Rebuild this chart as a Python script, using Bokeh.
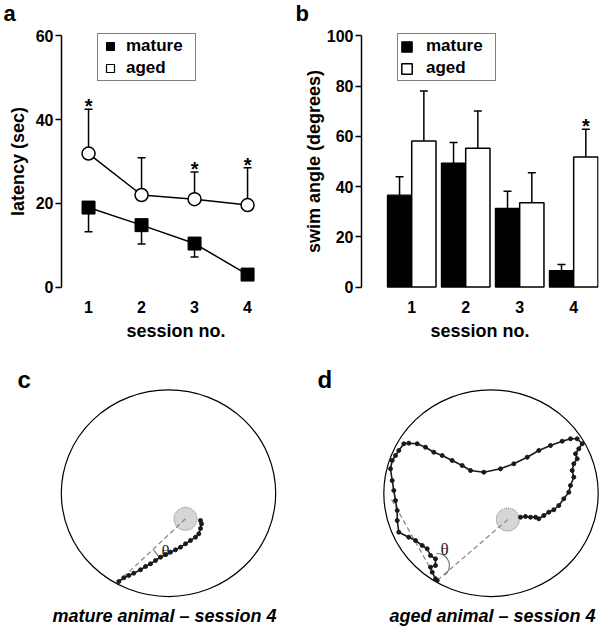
from bokeh.plotting import figure
from bokeh.layouts import column, row
from bokeh.models import Legend, LegendItem, FixedTicker, Label, Range1d
from bokeh.core.properties import value
from bokeh.embed import file_html
from bokeh.resources import INLINE
import math

FONT = "Liberation Sans"
SERIF = "Liberation Serif"

# ---------------- data ----------------
sessions = [1, 2, 3, 4]
mature_latency = [19.0, 14.8, 10.4, 3.0]
mature_latency_sem = [5.8, 4.5, 3.2, 0.6]
aged_latency = [31.9, 22.0, 21.0, 19.6]
aged_latency_sem = [10.6, 8.9, 6.5, 8.9]
latency_signif = [True, False, True, True]

mature_angle = [36.6, 49.4, 31.3, 6.6]
mature_angle_sem = [7.3, 8.2, 6.9, 2.4]
aged_angle = [58.2, 55.3, 33.6, 51.8]
aged_angle_sem = [19.9, 14.8, 11.9, 11.0]
angle_signif = [False, False, False, True]

# swim paths (pool centre = 0,0)
pool_width, pool_height = 214.4, 206.7
platform_radius = 11.5
mature_platform = (17.0, -25.6)
aged_platform = (16.8, -26.3)
mature_path_x = [-49.7, -44.7, -39.7, -34.7, -28.0, -23.0, -18.0, -13.0, -8.0, -3.0,
                 2.0, 7.0, 12.0, 17.0, 22.0, 27.0, 30.3, 32.0, 33.0, 32.0]
mature_path_y = [-88.3, -84.6, -82.3, -80.0, -76.6, -73.3, -70.6, -67.3, -64.0, -61.3,
                 -59.0, -56.6, -54.0, -50.6, -47.3, -44.0, -40.6, -35.3, -30.6, -27.3]
aged_path_x = [-53.8, -55.5, -58.8, -60.5, -55.5, -55.5, -60.5, -63.8, -68.8, -75.5,
               -82.2, -92.2, -93.8, -93.8, -95.5, -97.2, -98.8, -100.5, -98.8, -95.5,
               -92.2, -87.2, -82.2, -73.8, -65.5, -57.2, -48.8, -38.8, -28.8, -20.5,
               -7.2, 9.5, 22.8, 36.2, 47.8, 59.5, 71.2, 79.5, 86.2, 91.2,
               87.8, 84.5, 86.2, 82.8, 81.2, 82.8, 79.5, 77.8, 72.8, 67.8,
               62.8, 57.8, 52.8, 47.8, 44.5, 39.5, 34.5, 29.5]
aged_path_y = [-87.3, -85.6, -79.0, -74.0, -72.3, -65.6, -62.3, -55.6, -52.3, -47.3,
               -44.0, -39.0, -27.3, -17.3, -7.3, 2.7, 12.7, 24.4, 32.7, 37.7,
               42.7, 49.4, 50.0, 49.4, 46.0, 41.0, 37.7, 32.7, 27.7, 22.7,
               21.0, 24.4, 29.4, 36.0, 42.7, 47.7, 52.0, 54.4, 54.4, 49.4,
               44.4, 39.4, 34.4, 29.4, 22.7, 16.0, 7.7, 1.0, -5.6, -12.3,
               -16.6, -19.0, -22.3, -25.6, -24.0, -24.0, -23.3, -24.0]
aged_heading_end = (-100.5, -4.3)
mature_theta_pos = (-3.0, -58.3)
aged_theta_pos = (-46.5, -56.3)
mature_arc = dict(x=-49.7, y=-88.3, r=47, a0=30, a1=42)
aged_arc = dict(x=-53.5, y=-72.3, r=12, a0=-55, a1=95)


def style_top(p, ylabel, yticks, ymax, label_standoff):
    p.xgrid.visible = False
    p.ygrid.visible = False
    p.outline_line_color = None
    p.xaxis.ticker = FixedTicker(ticks=sessions)
    p.xaxis.axis_line_color = None
    p.xaxis.major_tick_line_color = None
    p.xaxis.minor_tick_line_color = None
    p.xaxis.major_tick_out = 0
    p.xaxis.major_tick_in = 0
    p.xaxis.major_label_standoff = 5
    p.xaxis.axis_label = "session no."
    p.xaxis.axis_label_standoff = 5
    p.yaxis.ticker = FixedTicker(ticks=yticks)
    p.yaxis.bounds = (0, ymax)
    p.yaxis.axis_line_width = 1.5
    p.yaxis.axis_line_color = "black"
    p.yaxis.major_tick_line_width = 1.5
    p.yaxis.major_tick_line_color = "black"
    p.yaxis.major_tick_out = 6
    p.yaxis.major_tick_in = 0
    p.yaxis.minor_tick_line_color = None
    p.yaxis.major_label_standoff = 2
    p.yaxis.axis_label = ylabel
    p.yaxis.axis_label_standoff = label_standoff
    for ax in (p.xaxis, p.yaxis):
        ax.major_label_text_font = FONT
        ax.major_label_text_font_style = "bold"
        ax.major_label_text_font_size = "16px"
        ax.major_label_text_color = "black"
        ax.axis_label_text_font = FONT
        ax.axis_label_text_font_style = "bold"
        ax.axis_label_text_font_size = "18px"
        ax.axis_label_text_color = "black"


def make_legend(items, loc, gw, gh, standoff):
    lg = Legend(items=items, location=loc, orientation="vertical")
    lg.border_line_color = "black"
    lg.border_line_width = 1.5
    lg.background_fill_color = "white"
    lg.background_fill_alpha = 1
    lg.label_text_font = FONT
    lg.label_text_font_style = "bold"
    lg.label_text_font_size = "17px"
    lg.label_text_color = "black"
    lg.padding = 2
    lg.spacing = 2
    lg.margin = 0
    lg.glyph_width = gw
    lg.glyph_height = gh
    lg.label_standoff = standoff
    lg.label_width = 67
    lg.label_height = 20
    return lg


def letter(p, text, x, y, size="24px"):
    p.add_layout(Label(x=x, y=y, x_units="screen", y_units="screen", text=text,
                       text_font=FONT, text_font_style="bold", text_font_size=size,
                       text_color="black", text_baseline="middle"))


def blank(p):
    p.xgrid.visible = False
    p.ygrid.visible = False
    p.outline_line_color = None


# ---------------- strip with panel letters a, b ----------------
strip = figure(width=600, height=25, min_border=0, x_range=Range1d(0, 600), y_range=Range1d(0, 25),
               x_axis_location=None, y_axis_location=None,
               output_backend="svg", toolbar_location=None)
blank(strip)
letter(strip, "a", 3, 12.5, "22px")
letter(strip, "b", 295, 12.5, "22px")

# ---------------- panel a ----------------
pa = figure(frame_width=229, frame_height=268, min_border_left=61, min_border_right=10,
            min_border_top=2, min_border_bottom=51,
            x_range=Range1d(0.49, 4.81), y_range=Range1d(-2, 62),
            output_backend="svg", toolbar_location=None)
style_top(pa, "latency (sec)", [0, 20, 40, 60], 60, 5)

m_low = [m - e for m, e in zip(mature_latency, mature_latency_sem)]
a_up = [a + e for a, e in zip(aged_latency, aged_latency_sem)]
pa.segment(x0=sessions, y0=mature_latency, x1=sessions, y1=m_low, line_color="black", line_width=1.5)
pa.scatter(x=sessions, y=m_low, marker="dash", size=8, line_color="black", line_width=1.5)
pa.segment(x0=sessions, y0=aged_latency, x1=sessions, y1=a_up, line_color="black", line_width=1.5)
pa.scatter(x=sessions, y=a_up, marker="dash", size=8, line_color="black", line_width=1.5)
pa.line(x=sessions, y=mature_latency, line_color="black", line_width=1.5)
pa.line(x=sessions, y=aged_latency, line_color="black", line_width=1.5)
r_mat = pa.scatter(x=sessions, y=mature_latency, marker="square", size=13,
                   fill_color="black", line_color="black")
pa.scatter(x=sessions, y=aged_latency, marker="circle", size=13,
           fill_color="white", line_color="black", line_width=1.5)
r_aged_leg = pa.scatter(x=[-100], y=[-100], marker="square", size=13,
                        fill_color="white", line_color="black", line_width=1.2)
sx = [s for s, g in zip(sessions, latency_signif) if g]
sy = [u for u, g in zip(a_up, latency_signif) if g]
pa.text(x=sx, y=sy, text=["*"] * len(sx), text_align="center", text_baseline="middle",
        y_offset=-3, text_font=value(FONT), text_font_style="bold", text_font_size="20px",
        text_color="black")
pa.add_layout(make_legend([LegendItem(label="mature", renderers=[r_mat]),
                           LegendItem(label="aged", renderers=[r_aged_leg])],
                          (36, 214), 20, 20, 6))

# ---------------- panel b ----------------
pb = figure(frame_width=237, frame_height=268, min_border_left=61, min_border_right=2,
            min_border_top=2, min_border_bottom=51,
            x_range=Range1d(0.07, 4.46), y_range=Range1d(-3.35, 103.35),
            output_backend="svg", toolbar_location=None)
style_top(pb, "swim angle (degrees)", [0, 20, 40, 60, 80, 100], 100, 0)
bw = 0.45
xm = [s - bw / 2 for s in sessions]
xa = [s + bw / 2 for s in sessions]
r_mb = pb.vbar(x=xm, top=mature_angle, bottom=0, width=bw, fill_color="black",
               line_color="black", line_width=1.2)
r_ab = pb.vbar(x=xa, top=aged_angle, bottom=0, width=bw, fill_color="white",
               line_color="black", line_width=1.5)
m_up = [m + e for m, e in zip(mature_angle, mature_angle_sem)]
ab_up = [a + e for a, e in zip(aged_angle, aged_angle_sem)]
pb.segment(x0=xm, y0=mature_angle, x1=xm, y1=m_up, line_color="black", line_width=1.5)
pb.scatter(x=xm, y=m_up, marker="dash", size=8, line_color="black", line_width=1.5)
pb.segment(x0=xa, y0=aged_angle, x1=xa, y1=ab_up, line_color="black", line_width=1.5)
pb.scatter(x=xa, y=ab_up, marker="dash", size=8, line_color="black", line_width=1.5)
bx = [x for x, g in zip(xa, angle_signif) if g]
by = [u for u, g in zip(ab_up, angle_signif) if g]
pb.text(x=bx, y=by, text=["*"] * len(bx), text_align="center", text_baseline="middle",
        y_offset=-3, text_font=value(FONT), text_font_style="bold", text_font_size="20px",
        text_color="black")
pb.add_layout(make_legend([LegendItem(label="mature", renderers=[r_mb]),
                           LegendItem(label="aged", renderers=[r_ab])],
                          (36, 214), 13, 13, 13))


# ---------------- panels c, d ----------------
BOTTOM_H = 286
CENTER_FROM_TOP = 146.7


def path_panel(xstart, px, py, platform, theta_pos, arc, heading_end, let, let_x, title, title_x):
    p = figure(width=300, height=BOTTOM_H, x_range=Range1d(xstart, xstart + 300),
               y_range=Range1d(CENTER_FROM_TOP - BOTTOM_H, CENTER_FROM_TOP), min_border=0,
               x_axis_location=None, y_axis_location=None,
               output_backend="svg", toolbar_location=None)
    blank(p)
    p.ellipse(x=[0], y=[0], width=[pool_width], height=[pool_height], fill_color=None,
              line_color="black", line_width=1.2)
    p.circle(x=[platform[0]], y=[platform[1]], radius=platform_radius, fill_color="#d6d6d6",
             line_color="#777777", line_width=1, line_dash="1 1")
    p.line(x=[platform[0], px[0]], y=[platform[1], py[0]], line_color="#8c8c8c",
           line_width=1.3, line_dash="5 3")
    if heading_end is not None:
        p.line(x=[px[0], heading_end[0]], y=[py[0], heading_end[1]], line_color="#8c8c8c",
               line_width=1.3, line_dash="5 3")
    p.arc(x=[arc["x"]], y=[arc["y"]], radius=arc["r"], start_angle=math.radians(arc["a0"]),
          end_angle=math.radians(arc["a1"]), line_color="#777777", line_width=1.2)
    p.line(x=px, y=py, line_color="#1a1a1a", line_width=1.6)
    p.scatter(x=px, y=py, marker="circle", size=4, fill_color="#1a1a1a", line_color="#1a1a1a")
    p.text(x=[theta_pos[0]], y=[theta_pos[1]], text=["θ"], text_align="center",
           text_baseline="middle", text_font=value(SERIF), text_font_size="17px",
           text_color="#222222")
    letter(p, let, let_x, 253)
    p.add_layout(Label(x=title_x, y=17, x_units="screen", y_units="screen", text=title,
                       text_font=FONT, text_font_style="bold italic", text_font_size="18px",
                       text_color="black", text_align="center", text_baseline="middle"))
    return p


pc = path_panel(-168, mature_path_x, mature_path_y, mature_platform, mature_theta_pos,
                mature_arc, None, "c", 17, "mature animal – session 4", 164)
pd = path_panel(-190.5, aged_path_x, aged_path_y, aged_platform, aged_theta_pos,
                aged_arc, aged_heading_end, "d", 17, "aged animal – session 4", 192)

layout = column(strip, row(pa, pb), row(pc, pd))
open("out.html", "w").write(file_html(layout, INLINE))
